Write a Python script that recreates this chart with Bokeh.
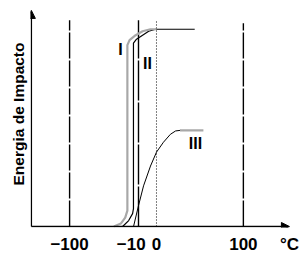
from bokeh.plotting import figure
from bokeh.models import Arrow, NormalHead, FixedTicker, Range1d, ColumnDataSource
from bokeh.embed import file_html
from bokeh.resources import INLINE
from bokeh.core.properties import value

# ---- data (schematic temperature units, energy 0..100) ----
tick_pos = [-100, -29, 0, 100, 153]
tick_labels = ["\u2212100", "\u221210", "0", "100", "\u00b0C"]

ref_x = [-100, -20.7, 0, 100]
ref_top = [104, 104, 104, 102.5]
ref_dash = ["26 2", "40 2", "1 2", "26 2"]

curve_I_x = [-49, -41, -36, -33.5, -33.5, -31, -24, -16, -7, 0]
curve_I_y = [0, 1.5, 4.5, 8, 91.5, 94, 96.5, 98.5, 99.5, 99.5]

curve_II_x = [-39, -32, -27.5, -26.5, -26.5, -23, -16, -9, -1, 44]
curve_II_y = [0, 3, 6.5, 9, 92.5, 94.5, 96.5, 98.5, 99.5, 99.5]

curve_III_x = [-26.4, -20.7, -14.9, -6.9, 0, 8, 16, 22, 27.6]
curve_III_y = [0, 10.5, 20.5, 30.5, 37.5, 42.5, 46.5, 48.2, 48.5]
plateau_III_x = [27, 54]
plateau_III_y = [48.5, 48.5]

label_names = ["I", "II", "III"]
label_x = [-41.4, -10.3, 44.8]
label_y = [89.5, 82, 42]

axis_x0 = -144
axis_x_end = 153
axis_y_end = 109

FONT = "Liberation Sans"

p = figure(width=307, height=256, output_backend="svg", toolbar_location=None,
           x_range=Range1d(-145, 160), y_range=Range1d(-0.5, 114),
           min_border_left=30, min_border_right=12, min_border_top=0,
           min_border_bottom=27)
p.outline_line_color = None
p.xgrid.visible = False
p.ygrid.visible = False
p.background_fill_color = "white"
p.border_fill_color = "white"

# bottom axis: only tick labels
xa = p.xaxis[0]
xa.ticker = FixedTicker(ticks=tick_pos)
xa.major_label_overrides = {t: l for t, l in zip(tick_pos, tick_labels)}
xa.axis_line_color = None
xa.major_tick_line_color = None
xa.minor_tick_line_color = None
xa.major_tick_out = 0
xa.major_tick_in = 0
xa.major_label_standoff = 7
xa.major_label_text_font = FONT
xa.major_label_text_font_style = "bold"
xa.major_label_text_font_size = "17px"
xa.major_label_text_color = "black"

# left axis: only the title
ya = p.yaxis[0]
ya.ticker = FixedTicker(ticks=[])
ya.axis_line_color = None
ya.major_tick_line_color = None
ya.minor_tick_line_color = None
ya.major_tick_out = 0
ya.major_tick_in = 0
ya.major_label_standoff = 0
ya.axis_label = "Energia de Impacto"
ya.axis_label_standoff = 4
ya.axis_label_text_font = FONT
ya.axis_label_text_font_style = "bold"
ya.axis_label_text_font_size = "15.5px"
ya.axis_label_text_color = "black"

# reference vertical lines
for x, top, dash in zip(ref_x, ref_top, ref_dash):
    p.line([x, x], [0, top], line_color="black",
           line_width=1.0 if dash == "1 2" else 1.4, line_dash=dash)

# curves
p.line(curve_II_x, curve_II_y, line_color="black", line_width=1.2)
p.line(curve_I_x, curve_I_y, line_color="#a8a8a8", line_width=2.2)
p.line(curve_III_x, curve_III_y, line_color="black", line_width=1.0)
p.line(plateau_III_x, plateau_III_y, line_color="#a8a8a8", line_width=2.2)

# axes with arrow heads
p.add_layout(Arrow(end=NormalHead(size=8, fill_color="black", line_color="black"),
                   x_start=axis_x0, y_start=0, x_end=axis_x0, y_end=axis_y_end,
                   line_color="black", line_width=1.4))
p.add_layout(Arrow(end=NormalHead(size=8, fill_color="black", line_color="black"),
                   x_start=axis_x0, y_start=0, x_end=axis_x_end, y_end=0,
                   line_color="black", line_width=1.4))

src = ColumnDataSource(dict(x=label_x, y=label_y, t=label_names))
p.text(x="x", y="y", text="t", source=src, text_font=value(FONT),
       text_font_style="bold", text_font_size="16px", text_align="center",
       text_baseline="middle", text_color="black")

open("out.html", "w").write(file_html(p, INLINE))
